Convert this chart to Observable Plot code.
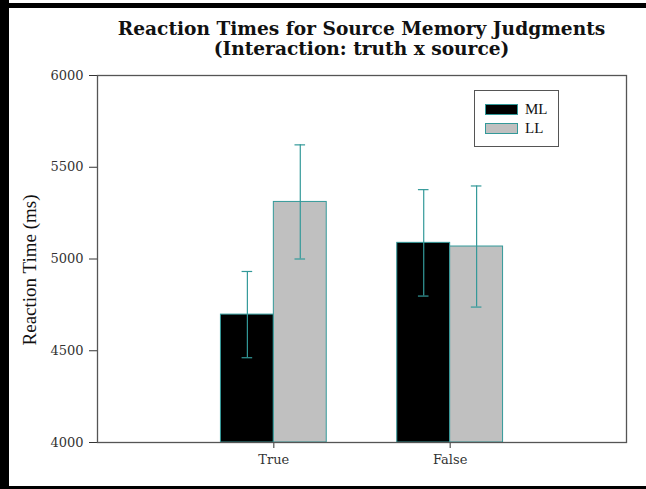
<!DOCTYPE html>
<html>
<head>
<meta charset="utf-8">
<script src="https://cdn.jsdelivr.net/npm/d3@7"></script>
<script src="https://cdn.jsdelivr.net/npm/@observablehq/plot@0.6"></script>
<style>
  body { margin: 0; background: #fff; }
  #wrap { position: relative; width: 646px; height: 489px; overflow: hidden; background: #fff; font-family: "DejaVu Serif", serif; }
  #chart { position: absolute; left: 0; top: 0; }
  #title { position: absolute; left: 80px; width: 563px; top: 19px; text-align: center; font-family: "DejaVu Serif", serif; font-weight: bold; font-size: 18.6px; line-height: 20px; color: #111; }
  #ylabel { position: absolute; left: 30px; top: 270px; transform: translate(-50%, -50%) rotate(-90deg); white-space: nowrap; font-family: "Liberation Serif", serif; font-size: 19px; color: #111; }
  .b { position: absolute; background: #000; }
  #legend { position: absolute; left: 474px; top: 90px; width: 85px; height: 57px; border: 1px solid #555; box-sizing: border-box; font-family: "Liberation Serif", serif; font-size: 15px; color: #111; }
  .row { position: absolute; left: 10px; display: flex; align-items: center; }
  .sw { width: 31px; height: 9px; border: 1px solid #339999; margin-right: 7px; }
</style>
</head>
<body>
<div id="wrap">
  <div class="b" style="left:0;top:0;width:9px;height:489px"></div>
  <div class="b" style="left:0;top:3px;width:646px;height:5px"></div>
  <div class="b" style="left:0;top:486px;width:646px;height:3px"></div>
  <div id="chart"></div>
  <div id="title">Reaction Times for Source Memory Judgments<br>(Interaction: truth x source)</div>
  <div id="ylabel">Reaction Time (ms)</div>
  <div id="legend"></div>
</div>
<script>
const truth = ["True", "False"];
const sources = ["ML", "LL"];
const means = { ML: [4697, 5088], LL: [5311, 5068] };
const errors = { ML: [235, 290], LL: [311, 330] };
const yTicks = [4000, 4500, 5000, 5500, 6000];
const fills = { ML: "#000000", LL: "#c0c0c0" };
const teal = "#339999";
const barW = 0.3;   // bar width in category units
const capW = 0.03;  // half-width of error-bar caps in category units

const data = [];
truth.forEach((t, i) => sources.forEach((s, j) => data.push({
  truth: t, pos: i + 1, side: j, source: s, value: means[s][i], err: errors[s][i]
})));
const center = d => d.pos + (d.side - 0.5) * barW;

const chart = Plot.plot({
  width: 646,
  height: 489,
  marginTop: 75,
  marginBottom: 47,
  marginLeft: 97,
  marginRight: 20,
  style: { fontFamily: "DejaVu Serif, serif", fontSize: "13px", color: "#333", background: "transparent" },
  x: { domain: [0, truth.length + 1], ticks: truth.map((t, i) => i + 1), tickFormat: d => truth[d - 1], tickSize: 6, tickPadding: 6, label: null },
  y: { domain: [yTicks[0], yTicks[yTicks.length - 1]], ticks: yTicks, tickFormat: d => String(d), tickSize: 8, tickPadding: 6, label: null },
  color: { domain: sources, range: sources.map(s => fills[s]) },
  marks: [
    Plot.rectY(data, { x1: d => d.pos + (d.side - 1) * barW, x2: d => d.pos + d.side * barW, y1: () => yTicks[0], y2: "value", fill: "source", stroke: teal, strokeWidth: 1 }),
    Plot.ruleX(data, { x: center, y1: d => d.value - d.err, y2: d => d.value + d.err, stroke: teal, strokeWidth: 1.2 }),
    Plot.ruleY(data, { y: d => d.value - d.err, x1: d => center(d) - capW, x2: d => center(d) + capW, stroke: teal, strokeWidth: 1.2 }),
    Plot.ruleY(data, { y: d => d.value + d.err, x1: d => center(d) - capW, x2: d => center(d) + capW, stroke: teal, strokeWidth: 1.2 }),
    Plot.frame({ stroke: "#555", strokeWidth: 1.3 })
  ]
});
document.getElementById("chart").appendChild(chart);

const legend = document.getElementById("legend");
sources.forEach((s, i) => {
  const row = document.createElement("div");
  row.className = "row";
  row.style.top = (10 + i * 19) + "px";
  row.innerHTML = `<div class="sw" style="background:${fills[s]}"></div><span>${s}</span>`;
  legend.appendChild(row);
});
</script>
</body>
</html>
